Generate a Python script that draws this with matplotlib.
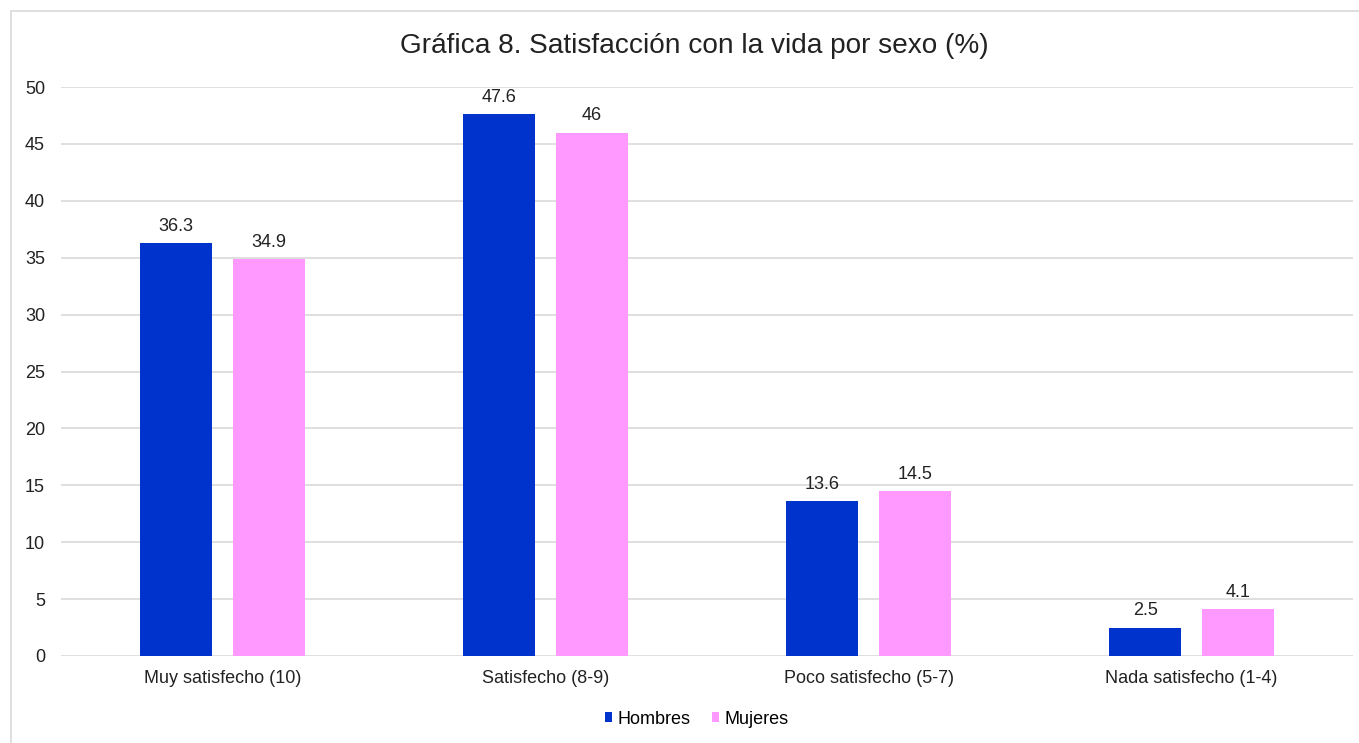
import matplotlib
matplotlib.use("Agg")
import matplotlib.pyplot as plt
import numpy as np
from matplotlib.patches import Rectangle

categories = ["Muy satisfecho (10)", "Satisfecho (8-9)", "Poco satisfecho (5-7)", "Nada satisfecho (1-4)"]
hombres = [36.3, 47.6, 13.6, 2.5]
mujeres = [34.9, 46, 14.5, 4.1]
hombres_labels = ["36.3", "47.6", "13.6", "2.5"]
mujeres_labels = ["34.9", "46", "14.5", "4.1"]
yticks = [0, 5, 10, 15, 20, 25, 30, 35, 40, 45, 50]

plt.rcParams['font.family'] = ['Liberation Sans', 'DejaVu Sans']

W, H = 1359, 743
fig = plt.figure(figsize=(W / 100, H / 100), dpi=100)
fig.patch.set_facecolor("white")

# outer border
fig.add_artist(Rectangle((11 / W, -0.01), 1.0, 1 - 11 / H + 0.01,
                         transform=fig.transFigure, fill=False,
                         edgecolor="#d9d9d9", linewidth=1.2))

ax = fig.add_axes([61 / W, 1 - 656 / H, (1353 - 61) / W, (656 - 87) / H])
x = np.arange(len(categories))
bw = 0.224
off = 0.143
blue = "#0033CC"
pink = "#FF99FF"
b1 = ax.bar(x - off, hombres, bw, color=blue, label="Hombres", zorder=3)
b2 = ax.bar(x + off, mujeres, bw, color=pink, label="Mujeres", zorder=3)

for bars, labs in ((b1, hombres_labels), (b2, mujeres_labels)):
    for rect, lab in zip(bars, labs):
        ax.annotate(lab, (rect.get_x() + rect.get_width() / 2, rect.get_height()),
                    xytext=(0, 6), textcoords="offset points", ha="center", va="bottom",
                    fontsize=13, color="#222222")

ax.set_xlim(-0.5, len(categories) - 0.5)
ax.set_ylim(0, 50)
ax.set_yticks(yticks)
ax.set_yticklabels([str(t) for t in yticks], fontsize=13, color="#222222")
ax.set_xticks(x)
ax.set_xticklabels(categories, fontsize=13, color="#222222")
ax.tick_params(axis="both", length=0)
ax.tick_params(axis="y", pad=11.5)
ax.tick_params(axis="x", pad=10)
ax.yaxis.grid(True, color="#d9d9d9", linewidth=1.2, zorder=0)
ax.set_axisbelow(True)
for s in ax.spines.values():
    s.set_visible(False)

fig.text(694 / W, 1 - 46 / H, "Gráfica 8. Satisfacción con la vida por sexo (%)",
         ha="center", va="center", fontsize=20.2, color="#222222")

leg = fig.legend(handles=[b1, b2], labels=["Hombres", "Mujeres"], loc="center",
                 bbox_to_anchor=(697 / W, 1 - 719 / H), ncol=2, frameon=False,
                 fontsize=13, handlelength=0.4, handleheight=0.4, handletextpad=0.3,
                 columnspacing=1.2)

fig.savefig("out.png", dpi=100)
